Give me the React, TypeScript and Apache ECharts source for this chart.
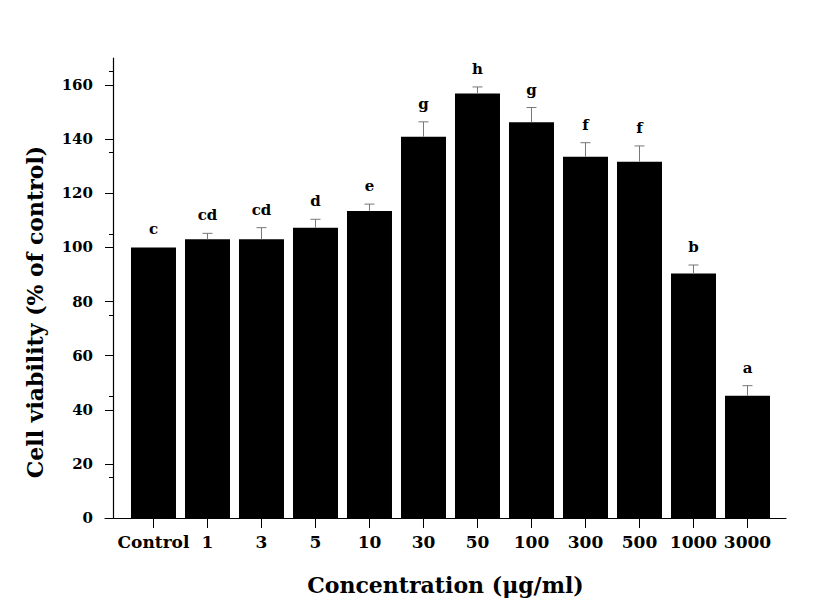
import React, { useEffect, useRef } from "react";
import * as echarts from "echarts";

const categories = ["Control", "1", "3", "5", "10", "30", "50", "100", "300", "500", "1000", "3000"];
const viability = [100, 103.0, 103.0, 107.3, 113.5, 140.9, 156.9, 146.3, 133.5, 131.7, 90.4, 45.2];
const errors = [0, 2.2, 4.3, 3.1, 2.5, 5.5, 2.4, 5.4, 5.2, 5.8, 3.1, 3.7];
const letters = ["c", "cd", "cd", "d", "e", "g", "h", "g", "f", "f", "b", "a"];
const yTicks = [0, 20, 40, 60, 80, 100, 120, 140, 160];

const FONT = '"DejaVu Serif", "Liberation Serif", serif';

export default function App() {
  const ref = useRef<HTMLDivElement>(null);
  useEffect(() => {
    if (!ref.current) return;
    const chart = echarts.init(ref.current, null, { renderer: "svg" });
    const idx = categories.map((_, i) => i);
    chart.setOption({
      animation: false,
      backgroundColor: "#ffffff",
      grid: { left: 105, right: 46, top: 58, bottom: 96, containLabel: false },
      xAxis: {
        type: "value",
        min: -0.898,
        max: 11.713,
        name: "Concentration (μg/ml)",
        nameLocation: "middle",
        nameGap: 56,
        nameTextStyle: { fontFamily: FONT, fontWeight: "bold", fontSize: 22, color: "#000" },
        axisLine: { show: true, onZero: false, lineStyle: { color: "#000", width: 1.2 } },
        axisTick: { show: true, length: 10, inside: false, customValues: idx, lineStyle: { color: "#000" } },
        axisLabel: {
          customValues: idx,
          margin: 15,
          fontFamily: FONT,
          fontWeight: "bold",
          fontSize: 17,
          color: "#000",
          formatter: (v: number) => categories[Math.round(v)] ?? "",
        },
        splitLine: { show: false },
      },
      yAxis: {
        type: "value",
        min: 0,
        max: 170,
        offset: -8,
        name: "Cell viability (% of control)",
        nameLocation: "middle",
        nameGap: 67,
        nameTextStyle: { fontFamily: FONT, fontWeight: "bold", fontSize: 22, color: "#000", padding: [0, 48, 0, 0] },
        axisLine: { show: true, onZero: false, lineStyle: { color: "#000", width: 1.2 } },
        axisTick: { show: true, length: 8, customValues: yTicks, lineStyle: { color: "#000" } },
        minorTick: { show: true, splitNumber: 2, length: 4, lineStyle: { color: "#000" } },
        axisLabel: {
          customValues: yTicks,
          margin: 20,
          fontFamily: FONT,
          fontWeight: "bold",
          fontSize: 15,
          color: "#000",
        },
        splitLine: { show: false },
      },
      series: [
        {
          type: "bar",
          data: viability.map((v, i) => [i, v]),
          barWidth: 45,
          itemStyle: { color: "#000" },
          z: 2,
        },
        {
          type: "custom",
          z: 3,
          data: viability.map((v, i) => [i, v, errors[i]]),
          renderItem: (params: any, api: any) => {
            const i = api.value(0);
            const v = api.value(1);
            const e = api.value(2);
            const base = api.coord([i, v]);
            const top = api.coord([i, v + e]);
            const children: any[] = [];
            if (e > 0) {
              children.push({
                type: "line",
                shape: { x1: top[0], y1: base[1], x2: top[0], y2: top[1] },
                style: { stroke: "#777", lineWidth: 1 },
              });
              children.push({
                type: "line",
                shape: { x1: top[0] - 5, y1: top[1], x2: top[0] + 5, y2: top[1] },
                style: { stroke: "#777", lineWidth: 1 },
              });
            }
            children.push({
              type: "text",
              x: top[0],
              y: top[1] - 18,
              style: {
                text: letters[params.dataIndex],
                fill: "#000",
                font: `bold 15px ${FONT}`,
                align: "center",
                verticalAlign: "middle",
              },
            });
            return { type: "group", children };
          },
        },
      ],
    });
    return () => chart.dispose();
  }, []);
  return <div ref={ref} style={{ position: "fixed", left: 0, top: 0, width: 832, height: 614 }} />;
}
